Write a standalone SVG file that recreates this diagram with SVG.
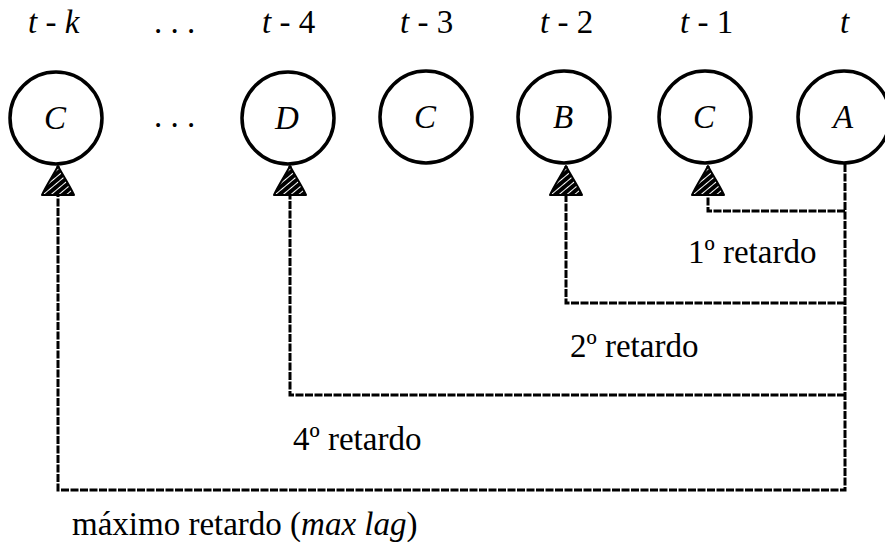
<svg xmlns="http://www.w3.org/2000/svg" width="885" height="553" viewBox="0 0 885 553">
<style>
text{font-family:"Liberation Serif","Times New Roman",serif;font-size:33px;fill:#000}
.it{font-style:italic}
.node circle{fill:#fff;stroke:#000;stroke-width:3.5}
.node text{font-style:italic;text-anchor:middle}
.conn path{fill:none;stroke:#000;stroke-width:3;stroke-dasharray:8 1.5}
</style>
<defs>
<pattern id="hatch" width="5" height="5" patternUnits="userSpaceOnUse" patternTransform="rotate(-40)">
<rect width="5" height="5" fill="#000"/>
<rect x="0" y="0" width="1" height="5" fill="#fff"/>
</pattern>
<marker id="arr" markerUnits="userSpaceOnUse" viewBox="0 0 34 36" markerWidth="34" markerHeight="36" refX="32" refY="18" orient="auto">
<path d="M32 18 C24 14 12 6 3 2 L3 34 C12 30 24 22 32 18 Z" fill="url(#hatch)" stroke="#000" stroke-width="2" stroke-linejoin="round"/>
</marker>
</defs>
<g id="labels">
<text x="28" y="33"><tspan class="it">t</tspan> - <tspan class="it">k</tspan></text>
<text x="154" y="33">. . .</text>
<text x="262" y="33"><tspan class="it">t</tspan> - 4</text>
<text x="400" y="33"><tspan class="it">t</tspan> - 3</text>
<text x="540" y="33"><tspan class="it">t</tspan> - 2</text>
<text x="680" y="33"><tspan class="it">t</tspan> - 1</text>
<text x="840" y="33" class="it">t</text>
<text x="154" y="127">. . .</text>
</g>
<g id="n_tk" class="node"><circle cx="56" cy="118" r="46"/><text x="55" y="129">C</text></g>
<g id="n_t4" class="node"><circle cx="288" cy="118" r="46"/><text x="287" y="129">D</text></g>
<g id="n_t3" class="node"><circle cx="426" cy="117" r="46"/><text x="425" y="128">C</text></g>
<g id="n_t2" class="node"><circle cx="564" cy="117" r="46"/><text x="563" y="128">B</text></g>
<g id="n_t1" class="node"><circle cx="705" cy="117" r="46"/><text x="704" y="128">C</text></g>
<g id="n_t" class="node"><circle cx="844" cy="117" r="46"/><text x="843" y="128">A</text></g>
<g id="connectors" class="conn">
<path d="M845 164 V490 H58 V166" marker-end="url(#arr)"/>
<path d="M845 211 H708 V166" marker-end="url(#arr)"/>
<path d="M845 303 H566 V166" marker-end="url(#arr)"/>
<path d="M845 395 H290 V166" marker-end="url(#arr)"/>
</g>
<g id="edge-labels">
<text x="688" y="263">1º retardo</text>
<text x="570" y="357">2º retardo</text>
<text x="293" y="450">4º retardo</text>
<text x="72" y="535">máximo retardo (<tspan class="it">max lag</tspan>)</text>
</g>
</svg>
